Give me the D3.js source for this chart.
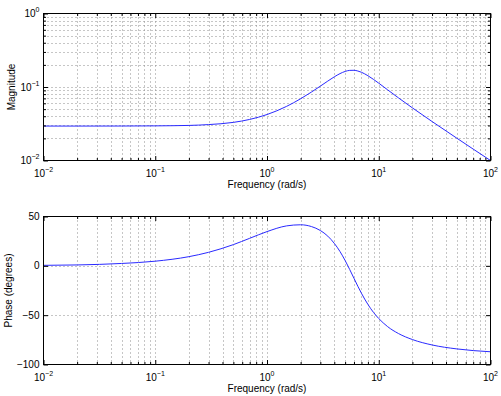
<!DOCTYPE html>
<html>
<head>
<meta charset="utf-8">
<script src="https://cdn.jsdelivr.net/npm/d3@7"></script>
<style>
  body { margin: 0; background: #fff; }
  text { font-family: "Liberation Sans", Arial, Helvetica, sans-serif; font-size: 10px; fill: #000; }
  .tick line { stroke: #000; }
  .grid line { stroke: #8c8c8c; stroke-dasharray: 1,3; }
</style>
</head>
<body>
<script>
// values
const freq = [0.01, 0.02, 0.05, 0.1, 0.2, 0.3, 0.5, 0.7, 1, 1.5, 2, 2.5, 3, 3.5, 4, 4.5,
  5, 5.5, 6, 6.5, 7, 8, 9, 10, 12, 15, 20, 30, 50, 70, 100];
const magnitude = [0.0294, 0.0294, 0.02945, 0.0296, 0.0300, 0.0308, 0.0330, 0.0362, 0.0422,
  0.0546, 0.0692, 0.0854, 0.1027, 0.1204, 0.1374, 0.1521, 0.1628, 0.1683, 0.1687, 0.1650,
  0.1586, 0.1424, 0.1265, 0.1127, 0.0916, 0.0712, 0.0520, 0.0339, 0.0201, 0.0143, 0.0100];
const phase = [0.5, 0.9, 2.4, 4.7, 9.3, 13.7, 21.5, 27.9, 34.7, 40.5, 41.6, 39.8, 35.8, 30.1,
  22.8, 14.5, 5.4, -3.8, -12.6, -20.7, -27.8, -39.1, -47.4, -53.4, -61.6, -68.6, -74.7,
  -80.2, -84.2, -85.9, -87.1];
const freqTickExps = [-2, -1, 0, 1, 2];
const magTickExps = [-2, -1, 0];
const phaseTicks = [-100, -50, 0, 50];

const width = 501, height = 396;
const left = 43.5, right = 490.5;
const majorLen = 4.5, minorLen = 2.5;

const svg = d3.select('body').append('svg')
  .attr('width', width)
  .attr('height', height);

const x = d3.scaleLog().domain([0.01, 100]).range([left, right]);
const xAll = x.ticks();
const isPow10 = v => Math.abs(Math.log10(v) - Math.round(Math.log10(v))) < 1e-9;
const xMinor = xAll.filter(v => !isPow10(v));
const xMajor = freqTickExps.map(e => Math.pow(10, e));

function powLabel(sel, e) {
  sel.append('tspan').text('10');
  sel.append('tspan')
    .attr('dy', -5)
    .style('font-size', '7px')
    .text(String(e).replace('-', '\u2212'));
}

function panel(y, yMajor, yMinor, top, bottom, data, yTitle, titleX, yLabel) {
  const g = svg.append('g');

  // grid first so the curve sits on top
  const grid = g.append('g').attr('class', 'grid');
  grid.selectAll('line.v')
    .data(xAll.filter(v => v > 0.01 && v < 100))
    .enter().append('line')
    .attr('x1', d => Math.round(x(d)) + 0.5).attr('x2', d => Math.round(x(d)) + 0.5)
    .attr('y1', top).attr('y2', bottom);
  grid.selectAll('line.h')
    .data(yMajor.concat(yMinor).filter(v => y(v) > top + 1 && y(v) < bottom - 1))
    .enter().append('line')
    .attr('x1', left).attr('x2', right)
    .attr('y1', d => Math.round(y(d)) + 0.5).attr('y2', d => Math.round(y(d)) + 0.5);

  const line = d3.line()
    .x((d, i) => x(freq[i]))
    .y(d => y(d))
    .curve(d3.curveMonotoneX);
  g.append('path')
    .datum(data)
    .attr('d', line)
    .attr('fill', 'none')
    .attr('stroke', '#2a2aff')
    .attr('stroke-width', 1);

  // inward ticks on all four sides
  const axes = [
    [d3.axisBottom, `translate(0,${bottom})`, x, xMajor, xMinor],
    [d3.axisTop, `translate(0,${top})`, x, xMajor, xMinor],
    [d3.axisLeft, `translate(${left},0)`, y, yMajor, yMinor],
    [d3.axisRight, `translate(${right},0)`, y, yMajor, yMinor]
  ];
  axes.forEach(([mk, tr, sc, maj, min]) => {
    [[maj, majorLen], [min, minorLen]].forEach(([vals, len]) => {
      if (!vals.length) return;
      const a = g.append('g').attr('transform', tr)
        .call(mk(sc).tickValues(vals).tickSize(-len).tickFormat(''));
      a.select('.domain').remove();
    });
  });

  g.append('rect')
    .attr('x', left).attr('y', top)
    .attr('width', right - left).attr('height', bottom - top)
    .attr('fill', 'none').attr('stroke', '#000');

  // x tick labels
  freqTickExps.forEach(e => {
    g.append('text')
      .attr('x', x(Math.pow(10, e)))
      .attr('y', bottom + 16)
      .attr('text-anchor', 'middle')
      .call(powLabel, e);
  });
  g.append('text')
    .attr('x', (left + right) / 2)
    .attr('y', bottom + 27)
    .attr('text-anchor', 'middle')
    .text('Frequency (rad/s)');

  yMajor.forEach(v => {
    const t = g.append('text')
      .attr('x', left - 4)
      .attr('y', y(v) + 3.5)
      .attr('text-anchor', 'end');
    yLabel(t, v);
  });

  g.append('text')
    .attr('transform', `translate(${titleX},${(top + bottom) / 2}) rotate(-90)`)
    .attr('text-anchor', 'middle')
    .text(yTitle);
}

// magnitude panel
const yMag = d3.scaleLog().domain([0.01, 1]).range([160.5, 13.5]);
const magMajor = magTickExps.map(e => Math.pow(10, e));
const magMinor = yMag.ticks().filter(v => !isPow10(v));
panel(yMag, magMajor, magMinor, 13.5, 160.5, magnitude, 'Magnitude', 14.5,
  (t, v) => powLabel(t, Math.round(Math.log10(v))));

// phase panel
const yPh = d3.scaleLinear().domain([-100, 50]).range([364.5, 216.5]);
panel(yPh, phaseTicks, [], 216.5, 364.5, phase, 'Phase (degrees)', 12,
  (t, v) => t.text(String(v).replace('-', '\u2212')));
</script>
</body>
</html>
